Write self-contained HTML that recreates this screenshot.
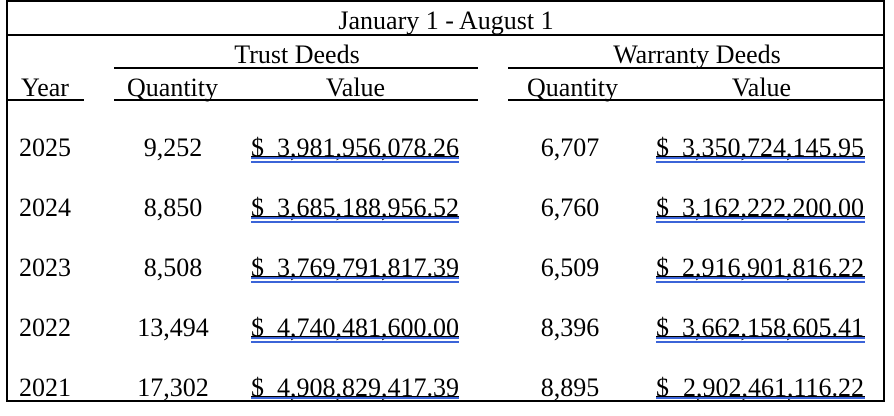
<!DOCTYPE html>
<html>
<head>
<meta charset="utf-8">
<style>
html,body{margin:0;padding:0;background:#fff;}
svg{display:block;}
text{font-family:"Liberation Serif","Times New Roman",serif;font-size:26px;fill:#000;}
</style>
</head>
<body>
<svg width="894" height="416" viewBox="0 0 894 416" xmlns="http://www.w3.org/2000/svg">
<rect x="6" y="0" width="878" height="2" fill="#000"/>
<rect x="6" y="0" width="2" height="402" fill="#000"/>
<rect x="883" y="0" width="2" height="402" fill="#000"/>
<rect x="6" y="400" width="879" height="2" fill="#000"/>
<rect x="6" y="34" width="879" height="2" fill="#000"/>
<rect x="114" y="67" width="364" height="2" fill="#000"/>
<rect x="508" y="67" width="376" height="2" fill="#000"/>
<rect x="6" y="99" width="78" height="2" fill="#000"/>
<rect x="114" y="99" width="364" height="2" fill="#000"/>
<rect x="508" y="99" width="376" height="2" fill="#000"/>

<text x="446" y="29" text-anchor="middle">January 1 - August 1</text>
<text x="297" y="63" text-anchor="middle">Trust Deeds</text>
<text x="697" y="63" text-anchor="middle">Warranty Deeds</text>
<text x="45" y="96" text-anchor="middle">Year</text>
<text x="172.5" y="96" text-anchor="middle">Quantity</text>
<text x="355.5" y="96" text-anchor="middle">Value</text>
<text x="572.5" y="96" text-anchor="middle">Quantity</text>
<text x="761.5" y="96" text-anchor="middle">Value</text>

<g>
<text x="45" y="156" text-anchor="middle">2025</text>
<text x="173" y="156" text-anchor="middle">9,252</text>
<text x="251" y="156">$</text>
<text x="459" y="156" text-anchor="end">3,981,956,078.26</text>
<text x="570" y="156" text-anchor="middle">6,707</text>
<text x="656" y="156">$</text>
<text x="864" y="156" text-anchor="end">3,350,724,145.95</text>
</g>
<g>
<text x="45" y="216" text-anchor="middle">2024</text>
<text x="173" y="216" text-anchor="middle">8,850</text>
<text x="251" y="216">$</text>
<text x="459" y="216" text-anchor="end">3,685,188,956.52</text>
<text x="570" y="216" text-anchor="middle">6,760</text>
<text x="656" y="216">$</text>
<text x="864" y="216" text-anchor="end">3,162,222,200.00</text>
</g>
<g>
<text x="45" y="276" text-anchor="middle">2023</text>
<text x="173" y="276" text-anchor="middle">8,508</text>
<text x="251" y="276">$</text>
<text x="459" y="276" text-anchor="end">3,769,791,817.39</text>
<text x="570" y="276" text-anchor="middle">6,509</text>
<text x="656" y="276">$</text>
<text x="864" y="276" text-anchor="end">2,916,901,816.22</text>
</g>
<g>
<text x="45" y="336" text-anchor="middle">2022</text>
<text x="173" y="336" text-anchor="middle">13,494</text>
<text x="251" y="336">$</text>
<text x="459" y="336" text-anchor="end">4,740,481,600.00</text>
<text x="570" y="336" text-anchor="middle">8,396</text>
<text x="656" y="336">$</text>
<text x="864" y="336" text-anchor="end">3,662,158,605.41</text>
</g>
<g>
<text x="45" y="396" text-anchor="middle">2021</text>
<text x="173" y="396" text-anchor="middle">17,302</text>
<text x="251" y="396">$</text>
<text x="459" y="396" text-anchor="end">4,908,829,417.39</text>
<text x="570" y="396" text-anchor="middle">8,895</text>
<text x="656" y="396">$</text>
<text x="864" y="396" text-anchor="end">2,902,461,116.22</text>
</g>

<g>
<rect x="251" y="156" width="208" height="1" fill="#000"/>
<rect x="251" y="157" width="208" height="2" fill="#3b64d8"/>
<rect x="251" y="161" width="208" height="2" fill="#3b64d8"/>
<rect x="656" y="156" width="209" height="1" fill="#000"/>
<rect x="656" y="157" width="209" height="2" fill="#3b64d8"/>
<rect x="656" y="161" width="209" height="2" fill="#3b64d8"/>

<rect x="251" y="216" width="208" height="1" fill="#000"/>
<rect x="251" y="217" width="208" height="2" fill="#3b64d8"/>
<rect x="251" y="221" width="208" height="2" fill="#3b64d8"/>
<rect x="656" y="216" width="209" height="1" fill="#000"/>
<rect x="656" y="217" width="209" height="2" fill="#3b64d8"/>
<rect x="656" y="221" width="209" height="2" fill="#3b64d8"/>

<rect x="251" y="276" width="208" height="1" fill="#000"/>
<rect x="251" y="277" width="208" height="2" fill="#3b64d8"/>
<rect x="251" y="281" width="208" height="2" fill="#3b64d8"/>
<rect x="656" y="276" width="209" height="1" fill="#000"/>
<rect x="656" y="277" width="209" height="2" fill="#3b64d8"/>
<rect x="656" y="281" width="209" height="2" fill="#3b64d8"/>

<rect x="251" y="336" width="208" height="1" fill="#000"/>
<rect x="251" y="337" width="208" height="2" fill="#3b64d8"/>
<rect x="251" y="341" width="208" height="2" fill="#3b64d8"/>
<rect x="656" y="336" width="209" height="1" fill="#000"/>
<rect x="656" y="337" width="209" height="2" fill="#3b64d8"/>
<rect x="656" y="341" width="209" height="2" fill="#3b64d8"/>

<rect x="251" y="396" width="208" height="1" fill="#000"/>
<rect x="251" y="397" width="208" height="2" fill="#3b64d8"/>
<rect x="656" y="396" width="209" height="1" fill="#000"/>
<rect x="656" y="397" width="209" height="2" fill="#3b64d8"/>
</g>
</svg>
</body>
</html>
